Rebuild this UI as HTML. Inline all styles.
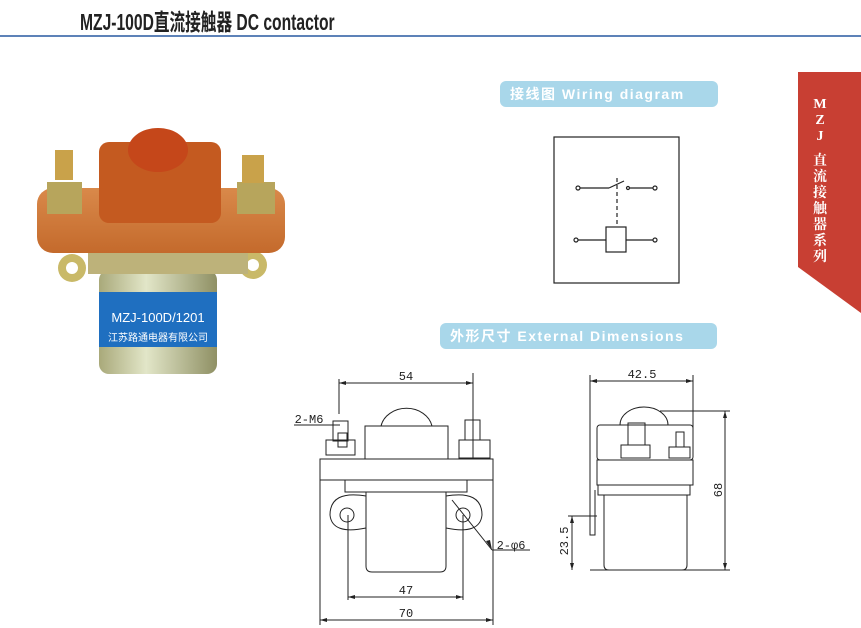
<!DOCTYPE html>
<html><head><meta charset="utf-8"><style>
body{margin:0;width:861px;height:628px;background:#fff;overflow:hidden;position:relative;font-family:"Liberation Sans","Noto Sans CJK SC",sans-serif}
.t{position:absolute;left:80px;top:3px;font-size:23px;font-weight:bold;color:#222;white-space:nowrap;transform:scaleX(0.68);transform-origin:0 0}
.hl{position:absolute;left:0;top:35px;width:861px;height:2px;background:#5d82b8}
.badge{position:absolute;background:#a9d7ea;color:#fff;border-radius:6px;font-weight:bold;font-size:14px;letter-spacing:1.5px;line-height:26px;padding-left:10px;white-space:nowrap}
</style></head><body>
<div class="t">MZJ-100D直流接触器 DC contactor</div>
<div class="hl"></div>
<div class="badge" style="left:500px;top:81px;width:208px;height:26px">接线图 Wiring diagram</div>
<div class="badge" style="left:440px;top:323px;width:267px;height:26px">外形尺寸 External Dimensions</div>
<svg width="861" height="628" style="position:absolute;left:0;top:0" xmlns="http://www.w3.org/2000/svg">
<polygon points="798,72 861,72 861,313 798,267" fill="#c83f33"/>
<g fill="#fff" font-family="Liberation Serif,Noto Serif CJK SC,serif" font-weight="bold" font-size="14" text-anchor="middle">
<text x="820" y="108">M</text><text x="820" y="124">Z</text><text x="820" y="140">J</text>
<text x="820" y="165">直</text><text x="820" y="181">流</text><text x="820" y="197">接</text><text x="820" y="213">触</text><text x="820" y="229">器</text><text x="820" y="245">系</text><text x="820" y="261">列</text>
</g>
<g stroke="#222" stroke-width="1.2" fill="none">
<rect x="554" y="137" width="125" height="146"/>
<circle cx="578" cy="188" r="2" fill="#fff"/><line x1="580" y1="188" x2="609" y2="188"/><line x1="609" y1="188" x2="624" y2="181"/>
<circle cx="628" cy="188" r="1.5"/><line x1="630" y1="188" x2="653" y2="188"/><circle cx="655" cy="188" r="2" fill="#fff"/>
<line x1="617" y1="178" x2="617" y2="227" stroke-dasharray="4,3"/>
<rect x="606" y="227" width="20" height="25"/>
<circle cx="576" cy="240" r="2" fill="#fff"/><line x1="578" y1="240" x2="606" y2="240"/><line x1="626" y1="240" x2="653" y2="240"/><circle cx="655" cy="240" r="2" fill="#fff"/>
</g>
<defs>
<linearGradient id="cyl" x1="0" x2="1"><stop offset="0" stop-color="#a9a97a"/><stop offset=".4" stop-color="#e2e6c8"/><stop offset="1" stop-color="#8f9064"/></linearGradient>
<linearGradient id="br" x1="0" x2="0" y1="0" y2="1"><stop offset="0" stop-color="#d9894a"/><stop offset="1" stop-color="#c46a2c"/></linearGradient>
</defs>
<rect x="99" y="270" width="118" height="104" rx="10" fill="url(#cyl)"/>
<rect x="99" y="292" width="118" height="55" fill="#1f6fc0"/>
<text x="158" y="322" fill="#fff" font-size="13" text-anchor="middle">MZJ-100D/1201</text>
<text x="158" y="341" fill="#fff" font-size="10" text-anchor="middle">江苏路通电器有限公司</text>
<circle cx="72" cy="268" r="14" fill="#c9b968"/><circle cx="72" cy="268" r="6" fill="#fff"/>
<circle cx="253" cy="265" r="14" fill="#c9b968"/><circle cx="253" cy="265" r="6" fill="#fff"/>
<rect x="88" y="252" width="160" height="22" fill="#bdb27a"/>
<rect x="37" y="188" width="248" height="65" rx="16" fill="url(#br)"/>
<rect x="99" y="142" width="122" height="81" rx="10" fill="#c45a20"/>
<ellipse cx="158" cy="150" rx="30" ry="22" fill="#c5471a"/>
<rect x="47" y="182" width="35" height="32" fill="#b7a55c"/>
<rect x="55" y="150" width="18" height="30" fill="#c9a24a"/>
<rect x="237" y="182" width="38" height="32" fill="#b7a55c"/>
<rect x="242" y="155" width="22" height="28" fill="#c9a24a"/>
<g stroke="#222" stroke-width="1" fill="none">
<line x1="339" y1="383" x2="473" y2="383"/><line x1="339" y1="379" x2="339" y2="414"/><line x1="473" y1="373" x2="473" y2="458"/>
<line x1="294" y1="425" x2="340" y2="425"/>
<rect x="333" y="421" width="15" height="20"/><rect x="326" y="440" width="29" height="15"/><rect x="338" y="433" width="9" height="14"/>
<rect x="465" y="420" width="15" height="20"/><rect x="459" y="440" width="31" height="18"/>
<rect x="365" y="426" width="83" height="33"/>
<path d="M381,426 A26,22 0 0 1 432,426"/>
<rect x="320" y="459" width="173" height="21"/>
<rect x="345" y="480" width="122" height="12"/>
<path d="M366,492 L366,566 Q366,572 372,572 L440,572 Q446,572 446,566 L446,492"/>
<path d="M366,496 Q330,490 330,515 Q332,535 366,528"/><path d="M446,496 Q482,490 482,515 Q480,535 446,528"/>
<circle cx="347" cy="515" r="7"/><circle cx="463" cy="515" r="7"/>
<line x1="320" y1="480" x2="320" y2="625"/><line x1="493" y1="480" x2="493" y2="625"/>
<line x1="320" y1="620" x2="493" y2="620"/>
<line x1="348" y1="515" x2="348" y2="600"/><line x1="463" y1="515" x2="463" y2="600"/>
<line x1="348" y1="597" x2="463" y2="597"/>
<line x1="452" y1="500" x2="492" y2="550"/><line x1="492" y1="550" x2="530" y2="550"/>
<line x1="590" y1="381" x2="693" y2="381"/><line x1="590" y1="375" x2="590" y2="485"/><line x1="693" y1="375" x2="693" y2="430"/>
<rect x="597" y="425" width="96" height="35" rx="3"/>
<path d="M620,425 A24,18 0 0 1 668,425"/>
<rect x="628" y="423" width="17" height="22"/><rect x="621" y="445" width="29" height="13"/>
<rect x="676" y="432" width="8" height="15"/><rect x="669" y="447" width="21" height="11"/>
<rect x="597" y="460" width="96" height="25"/>
<rect x="598" y="485" width="92" height="10"/>
<path d="M590,485 L590,535 L595,535 L595,490"/>
<path d="M604,495 L604,565 Q604,570 609,570 L682,570 Q687,570 687,565 L687,495"/>
<line x1="660" y1="411" x2="730" y2="411"/><line x1="590" y1="570" x2="730" y2="570"/>
<line x1="725" y1="411" x2="725" y2="570"/>
<line x1="568" y1="516" x2="597" y2="516"/><line x1="572" y1="516" x2="572" y2="570"/>
</g>
<g fill="#222">
<polygon points="339,383 346,381 346,385"/><polygon points="473,383 466,381 466,385"/>
<polygon points="320,620 327,618 327,622"/><polygon points="493,620 486,618 486,622"/>
<polygon points="348,597 355,595 355,599"/><polygon points="463,597 456,595 456,599"/>
<polygon points="590,381 597,379 597,383"/><polygon points="693,381 686,379 686,383"/>
<polygon points="725,411 723,418 727,418"/><polygon points="725,570 723,563 727,563"/>
<polygon points="572,516 570,523 574,523"/><polygon points="572,570 570,563 574,563"/>
<polygon points="492,550 486,541 490,540"/>
</g>
<g fill="#222" font-family="Liberation Mono,monospace" font-size="12" text-anchor="middle">
<text x="406" y="380">54</text><text x="309" y="423">2-M6</text>
<text x="406" y="594">47</text><text x="406" y="617">70</text><text x="511" y="549">2-φ6</text>
<text x="642" y="378">42.5</text>
<text transform="translate(722,490) rotate(-90)">68</text>
<text transform="translate(568,541) rotate(-90)">23.5</text>
</g>
</svg>
</body></html>
